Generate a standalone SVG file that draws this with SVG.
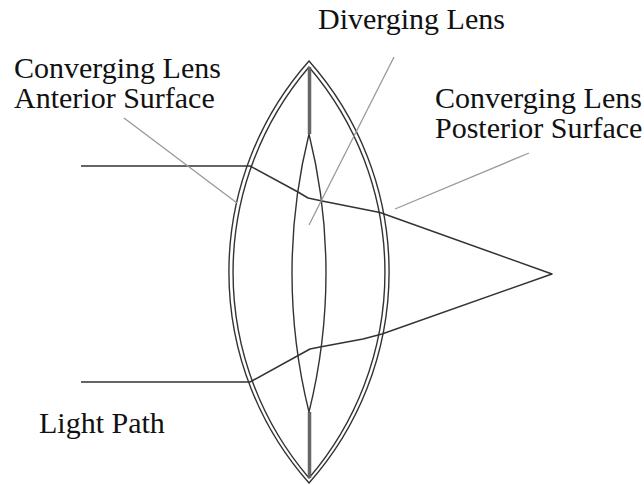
<svg xmlns="http://www.w3.org/2000/svg" width="644" height="485" viewBox="0 0 644 485">
<style>
.lens{fill:none;stroke:#333;stroke-width:1.4}
.rod{fill:none;stroke:#666;stroke-width:3.500}
.ray{fill:none;stroke:#333;stroke-width:1.5;stroke-linejoin:round}
.lead{fill:none;stroke:#999;stroke-width:1.3}
text{font-family:"Liberation Serif","Times New Roman",serif;font-size:30px;fill:#111}
</style>
<rect width="644" height="485" fill="#fff"/>
<g id="converging-lens">
<path class="lens" d="M309 61A318 318 0 0 0 309 483A318 318 0 0 0 309 61Z"/>
<path class="lens" d="M309 67A316 316 0 0 0 309 478A316 316 0 0 0 309 67Z"/>
</g>
<g id="diverging-lens">
<path class="rod" d="M309.500 67V134M309.500 412V478"/>
<path class="lens" d="M309 134A577 577 0 0 0 309 412A577 577 0 0 0 309 134Z"/>
</g>
<g id="connectors">
<path class="ray" d="M81 166H250L298 192L308 198L322 201L380 212.500L552 274L382 334L363 339L320 347L310 349L250 382H81"/>
<path class="lead" d="M394 57L309 225"/>
<path class="lead" d="M124 118L237 203"/>
<path class="lead" d="M395 209L529 153"/>
</g>
<g id="label-diverging"><text x="318" y="29">Diverging Lens</text></g>
<g id="label-anterior"><text x="14" y="78">Converging Lens</text><text x="14" y="108">Anterior Surface</text></g>
<g id="label-posterior"><text x="435" y="108">Converging Lens</text><text x="435" y="138">Posterior Surface</text></g>
<g id="label-light"><text x="39" y="433">Light Path</text></g>
</svg>
